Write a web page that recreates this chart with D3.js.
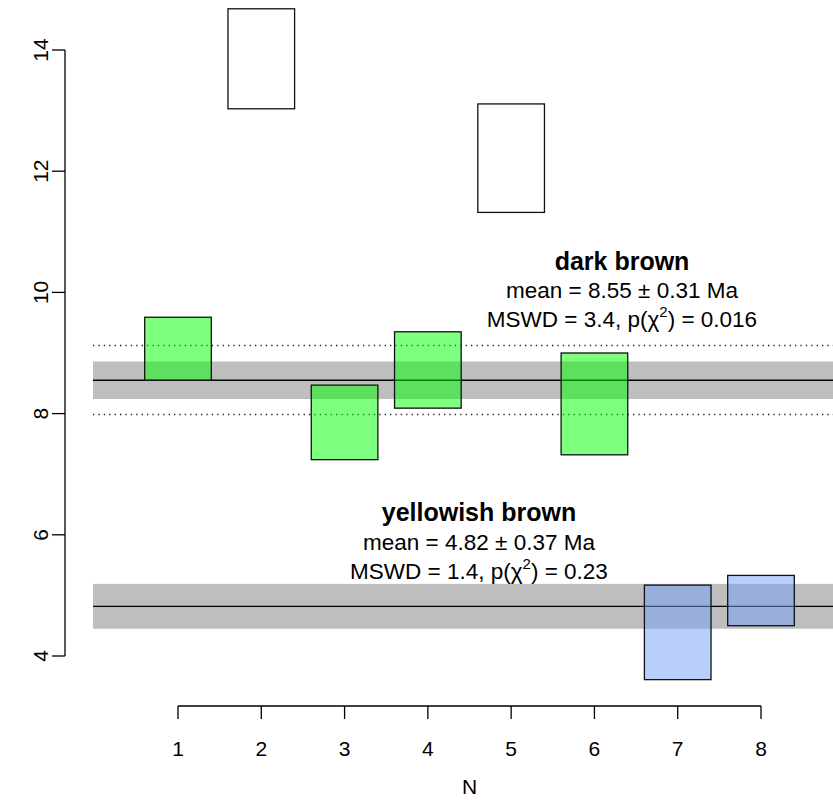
<!DOCTYPE html>
<html>
<head>
<meta charset="utf-8">
<script src="https://cdn.jsdelivr.net/npm/d3@7"></script>
<style>
  body { margin: 0; background: #fff; }
  text { font-family: "Liberation Sans", Arial, sans-serif; fill: #000; }
</style>
</head>
<body>
<svg id="chart" width="833" height="800"></svg>
<script>
// sample number and age range (Ma) of each box
const samples = [1, 2, 3, 4, 5, 6, 7, 8];
const lows  = [8.55, 13.03, 7.24, 8.09, 11.32, 7.32, 3.61, 4.50];
const highs = [9.59, 14.68, 8.47, 9.35, 13.11, 9.00, 5.17, 5.33];
const groups = ["dark brown", "none", "dark brown", "dark brown", "none", "dark brown", "yellowish brown", "yellowish brown"];

// weighted means per group
const groupNames = ["dark brown", "yellowish brown"];
const means = [8.55, 4.82];
const errs = [0.31, 0.37];
const mswd = ["3.4", "1.4"];
const pChi = ["0.016", "0.23"];
const dotted = [[7.99, 9.13], []];

const yTicks = [4, 6, 8, 10, 12, 14];
const xTicks = [1, 2, 3, 4, 5, 6, 7, 8];

const fills = {
  "dark brown": "rgba(0,255,0,0.5)",
  "yellowish brown": "rgba(115,160,248,0.5)",
  "none": "#fff"
};

let svg = d3.select("#chart");

let x = d3.scaleLinear().domain([1, 8]).range([178, 761]);
let y = d3.scaleLinear().domain([4, 14]).range([656, 50]);
const halfW = 0.4;
const left = 93, right = 833;

// bands + mean lines
let bands = svg.append("g");
groupNames.forEach((g, i) => {
  bands.append("rect")
    .attr("x", left).attr("width", right - left)
    .attr("y", y(means[i] + errs[i]))
    .attr("height", y(means[i] - errs[i]) - y(means[i] + errs[i]))
    .attr("fill", "#bebebe");
  bands.append("line")
    .attr("x1", left).attr("x2", right)
    .attr("y1", y(means[i])).attr("y2", y(means[i]))
    .attr("stroke", "#000").attr("stroke-width", 1.3);
  dotted[i].forEach(v => {
    bands.append("line")
      .attr("x1", left).attr("x2", right)
      .attr("y1", Math.round(y(v)) + 0.5).attr("y2", Math.round(y(v)) + 0.5)
      .attr("stroke", "#222").attr("stroke-width", 1.3)
      .attr("stroke-dasharray", "1.3,4.1");
  });
});

// boxes
svg.append("g")
  .selectAll("rect")
  .data(samples)
  .enter().append("rect")
  .attr("x", (d) => x(d - halfW))
  .attr("width", (d) => x(d + halfW) - x(d - halfW))
  .attr("y", (d, i) => y(highs[i]))
  .attr("height", (d, i) => y(lows[i]) - y(highs[i]))
  .attr("fill", (d, i) => fills[groups[i]])
  .attr("stroke", "#111")
  .attr("stroke-width", 1.3);

// annotations (baseline offsets above each mean line)
const labelX = [622, 479];
const offTitle = [110, 85], offMean = [82, 56], offMswd = [53, 27];
groupNames.forEach((g, i) => {
  let cx = labelX[i], base = y(means[i]);
  let t = svg.append("g").attr("text-anchor", "middle");
  t.append("text")
    .attr("x", cx).attr("y", base - offTitle[i])
    .style("font-size", "25px").style("font-weight", "bold")
    .text(g);
  t.append("text")
    .attr("x", cx).attr("y", base - offMean[i])
    .style("font-size", "22.5px")
    .text(`mean = ${means[i].toFixed(2)} \u00b1 ${errs[i].toFixed(2)} Ma`);
  let m = t.append("text")
    .attr("x", cx).attr("y", base - offMswd[i])
    .style("font-size", "22.5px");
  m.append("tspan").text(`MSWD = ${mswd[i]}, p(\u03c7`);
  m.append("tspan").attr("dy", -10).style("font-size", "15px").text("2");
  m.append("tspan").attr("dy", 10).text(`) = ${pChi[i]}`);
});

// y axis
let ya = svg.append("g");
ya.append("line")
  .attr("x1", 65).attr("x2", 65)
  .attr("y1", y(4)).attr("y2", y(14))
  .attr("stroke", "#000").attr("stroke-width", 1.3);
ya.selectAll(".tk").data(yTicks).enter().append("line")
  .attr("x1", 52).attr("x2", 65)
  .attr("y1", (d) => y(d)).attr("y2", (d) => y(d))
  .attr("stroke", "#000").attr("stroke-width", 1.3);
ya.selectAll("text").data(yTicks).enter().append("text")
  .attr("transform", (d) => `translate(48,${y(d)}) rotate(-90)`)
  .attr("text-anchor", "middle")
  .style("font-size", "21px")
  .text((d) => d);

// x axis
let xa = svg.append("g");
xa.append("line")
  .attr("x1", x(1)).attr("x2", x(8))
  .attr("y1", 706).attr("y2", 706)
  .attr("stroke", "#000").attr("stroke-width", 1.3);
xa.selectAll(".tk").data(xTicks).enter().append("line")
  .attr("x1", (d) => x(d)).attr("x2", (d) => x(d))
  .attr("y1", 706).attr("y2", 719)
  .attr("stroke", "#000").attr("stroke-width", 1.3);
xa.selectAll("text").data(xTicks).enter().append("text")
  .attr("x", (d) => x(d)).attr("y", 756)
  .attr("text-anchor", "middle")
  .style("font-size", "21px")
  .text((d) => d);
svg.append("text")
  .attr("x", (x(1) + x(8)) / 2).attr("y", 794)
  .attr("text-anchor", "middle")
  .style("font-size", "21px")
  .text("N");
</script>
</body>
</html>
